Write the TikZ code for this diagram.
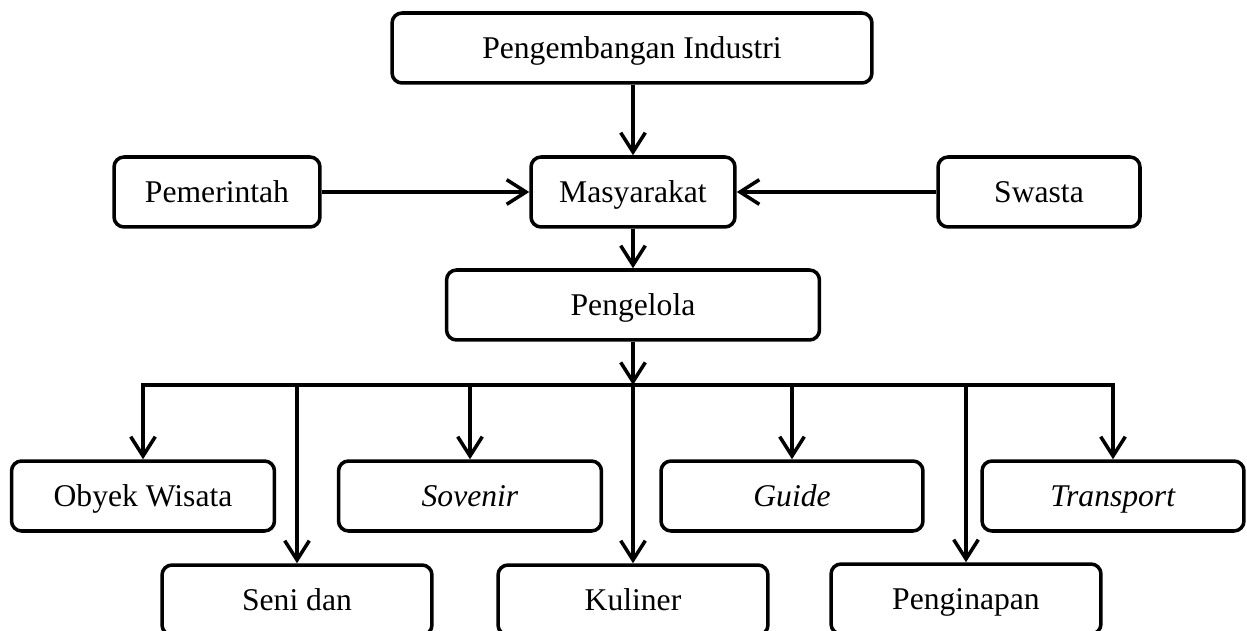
\documentclass[tikz,border=0pt]{standalone}
\usepackage{fontspec}
\setmainfont{Liberation Serif}
\usetikzlibrary{arrows.meta}

\begin{document}
\begin{tikzpicture}[x=0.02cm, y=-0.02cm,
  kotak/.style={draw=black, line width=2pt, rounded corners=0.2cm, minimum height=1.4cm,
    inner sep=0pt, text height=13pt, text depth=1.6pt, font=\fontsize{18}{22}\selectfont},
  arr/.style={line width=2pt, -{Straight Barb[length=11pt, width=14pt, line width=2pt]}}]
  \useasboundingbox (0,0) rectangle (1247,631);
  \clip (0,0) rectangle (1247,631);

  \node[kotak, minimum width=9.6cm] (indus) at (632, 48) {Pengembangan Industri};

  \node[kotak, minimum width=4.08cm] (masy) at (633, 192) {Masyarakat};
  \draw[arr] (indus.south -| masy) -- (masy.north);

  \node[kotak, minimum width=4.12cm] (pem) at (217, 192) {Pemerintah};
  \draw[arr] (pem) -- (masy);

  \node[kotak, minimum width=4.04cm] (swasta) at (1039, 192) {Swasta};
  \draw[arr] (swasta) -- (masy);

  \node[kotak, minimum width=7.46cm] (kelola) at (633, 305) {Pengelola};
  \draw[arr] (masy) -- (kelola);

  \coordinate (bus) at (633, 385);
  \draw[arr] (kelola) -- (bus);

  % baris atas
  \node[kotak, minimum width=5.26cm] (obyek) at (143, 496) {Obyek Wisata};
  \node[kotak, minimum width=5.26cm] (sovenir) at (470, 496) {\textit{Sovenir}};
  \node[kotak, minimum width=5.24cm] (guide) at (792, 496) {\textit{Guide}};
  \node[kotak, minimum width=5.24cm] (transport) at (1113, 496) {\textit{Transport}};

  % baris bawah
  \node[kotak, minimum width=5.4cm] (seni) at (297, 600) {Seni dan};
  \node[kotak, minimum width=5.4cm] (kuliner) at (633, 600) {Kuliner};
  \node[kotak, minimum width=5.4cm] (inap) at (966, 599) {Penginapan};

  \draw[arr] (bus) -| (obyek.north);
  \draw[arr] (bus) -| (transport.north);
  \draw[arr] (bus -| seni) -- (seni.north);
  \draw[arr] (bus -| sovenir) -- (sovenir.north);
  \draw[arr] (bus -| kuliner) -- (kuliner.north);
  \draw[arr] (bus -| guide) -- (guide.north);
  \draw[arr] (bus -| inap) -- (inap.north);

\end{tikzpicture}
\end{document}
